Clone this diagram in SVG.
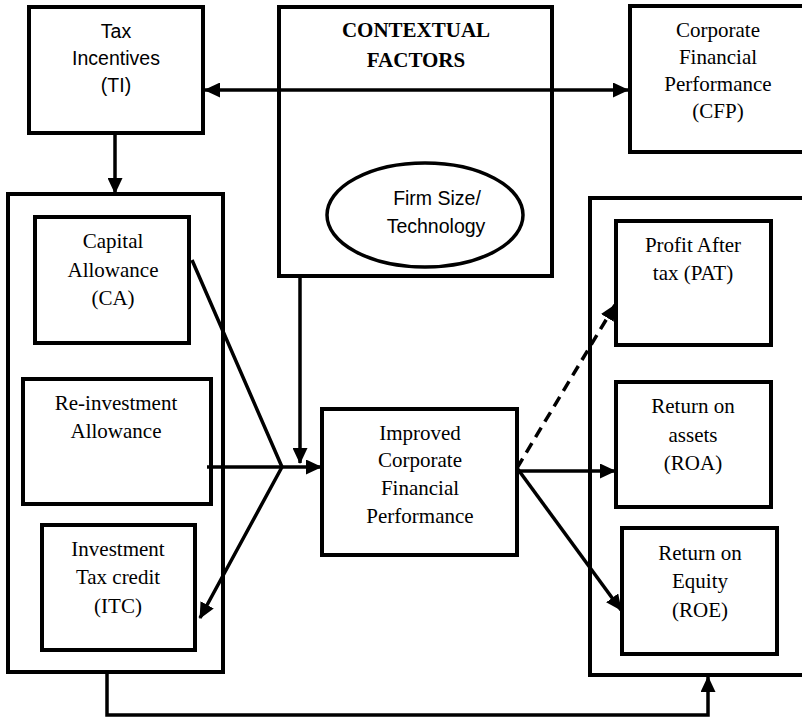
<svg xmlns="http://www.w3.org/2000/svg" width="802" height="719" viewBox="0 0 802 719">
<defs>
<marker id="ah" markerUnits="userSpaceOnUse" markerWidth="16" markerHeight="15" refX="15" refY="7.5" orient="auto-start-reverse">
<path d="M0,0 L16,7.5 L0,15 z" fill="#000"/>
</marker>
</defs>
<style>
.box{fill:#fff;stroke:#000;stroke-width:4}
.cont{fill:none;stroke:#000;stroke-width:4}
.ln{fill:none;stroke:#000;stroke-width:3.5}
.tn{font-family:"Liberation Serif","Times New Roman",serif;font-size:21px;text-anchor:middle;fill:#000}
.tb{font-family:"Liberation Serif","Times New Roman",serif;font-size:21px;font-weight:bold;text-anchor:middle;fill:#000}
.ts{font-family:"Liberation Sans",Arial,sans-serif;font-size:19.5px;text-anchor:middle;fill:#000}
</style>
<rect width="802" height="719" fill="#fff"/>
<g id="left-container"><rect class="cont" x="8" y="194" width="215" height="478"/></g>
<g id="right-container"><rect class="cont" x="590" y="198" width="216" height="477"/></g>
<g id="contextual">
<rect class="box" x="279" y="7" width="273" height="269"/>
<text class="tb" x="416" y="37">CONTEXTUAL</text>
<text class="tb" x="416" y="67">FACTORS</text>
</g>
<g id="firm-size">
<ellipse cx="425" cy="215" rx="98" ry="52" fill="#fff" stroke="#000" stroke-width="3.5"/>
<text class="ts" x="437" y="205">Firm Size/</text>
<text class="ts" x="436" y="233">Technology</text>
</g>
<g id="ti">
<rect class="box" x="29" y="7" width="174" height="126"/>
<text class="ts" x="116" y="38">Tax</text>
<text class="ts" x="116" y="65">Incentives</text>
<text class="ts" x="116" y="92">(TI)</text>
</g>
<g id="cfp">
<rect class="box" x="630" y="6" width="176" height="146"/>
<text class="tn" x="718" y="37">Corporate</text>
<text class="tn" x="718" y="64">Financial</text>
<text class="tn" x="718" y="91">Performance</text>
<text class="tn" x="718" y="118">(CFP)</text>
</g>
<g id="ca">
<rect class="box" x="35" y="217" width="154" height="126"/>
<text class="tn" x="113" y="248">Capital</text>
<text class="tn" x="113" y="277">Allowance</text>
<text class="tn" x="113" y="305">(CA)</text>
</g>
<g id="ria">
<rect class="box" x="23" y="379" width="188" height="125"/>
<text class="tn" x="116" y="410">Re-investment</text>
<text class="tn" x="116" y="438">Allowance</text>
</g>
<g id="itc">
<rect class="box" x="42" y="525" width="153" height="125"/>
<text class="tn" x="118" y="556">Investment</text>
<text class="tn" x="118" y="584">Tax credit</text>
<text class="tn" x="118" y="613">(ITC)</text>
</g>
<g id="icfp">
<rect class="box" x="322" y="409" width="195" height="146"/>
<text class="tn" x="420" y="440">Improved</text>
<text class="tn" x="420" y="467">Corporate</text>
<text class="tn" x="420" y="495">Financial</text>
<text class="tn" x="420" y="523">Performance</text>
</g>
<g id="pat">
<rect class="box" x="616" y="221" width="155" height="124"/>
<text class="tn" x="693" y="252">Profit After</text>
<text class="tn" x="693" y="280">tax (PAT)</text>
</g>
<g id="roa">
<rect class="box" x="616" y="382" width="155" height="125"/>
<text class="tn" x="693" y="413">Return on</text>
<text class="tn" x="693" y="442">assets</text>
<text class="tn" x="693" y="470">(ROA)</text>
</g>
<g id="roe">
<rect class="box" x="622" y="528" width="155" height="126"/>
<text class="tn" x="700" y="560">Return on</text>
<text class="tn" x="700" y="588">Equity</text>
<text class="tn" x="700" y="617">(ROE)</text>
</g>
<g id="connectors">
<line class="ln" x1="205" y1="90" x2="628" y2="90" marker-start="url(#ah)" marker-end="url(#ah)"/>
<line class="ln" x1="115" y1="133" x2="115" y2="193" marker-end="url(#ah)"/>
<line class="ln" x1="300" y1="277" x2="300" y2="463" marker-end="url(#ah)"/>
<polyline class="ln" points="192,260 282,467 200,618" marker-end="url(#ah)"/>
<line class="ln" x1="207" y1="467" x2="321" y2="467" marker-end="url(#ah)"/>
<line class="ln" x1="517" y1="468" x2="615" y2="305" stroke-dasharray="11,7" marker-end="url(#ah)"/>
<line class="ln" x1="517" y1="471" x2="615" y2="471" marker-end="url(#ah)"/>
<line class="ln" x1="517" y1="468" x2="621" y2="610" marker-end="url(#ah)"/>
<polyline class="ln" points="107,673 107,715 708,715 708,677" marker-end="url(#ah)"/>
</g>
</svg>
